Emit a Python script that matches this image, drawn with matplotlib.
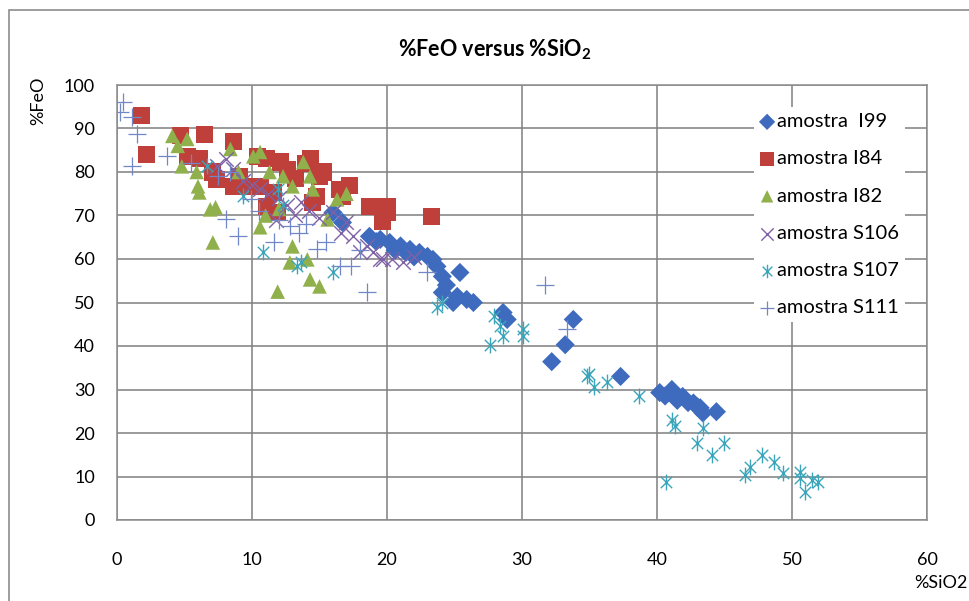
import matplotlib
matplotlib.use("Agg")
import matplotlib.pyplot as plt
from matplotlib.path import Path
from matplotlib.patches import Rectangle

plt.rcParams["font.family"] = ["Lato", "DejaVu Sans"]

# %% data
i99_x = [16.0, 16.7, 18.7, 19.2, 19.5, 20.2, 20.6, 21.0, 21.4, 21.7, 22.0, 22.4, 23.0, 23.4,
         23.7, 24.1, 24.1, 24.4, 25.4, 24.9, 25.2, 25.9, 26.4, 28.6, 28.9, 32.2, 33.2, 33.8,
         37.3, 40.2, 40.6, 41.1, 41.5, 41.9, 42.3, 42.7, 43.0, 43.2, 43.4, 44.4]
i99_y = [70.7, 68.4, 65.2, 64.0, 64.5, 63.8, 62.0, 63.0, 61.5, 62.2, 60.5, 61.5, 60.6, 59.9,
         58.3, 56.0, 52.3, 54.0, 56.9, 50.0, 51.4, 50.7, 50.0, 47.7, 46.1, 36.4, 40.3, 46.1,
         33.0, 29.3, 28.5, 30.0, 27.5, 28.4, 27.0, 26.9, 26.0, 25.8, 24.6, 24.9]

i84_x = [1.85, 2.2, 4.7, 5.2, 6.1, 6.5, 7.1, 7.4, 8.6, 8.6, 9.1, 9.6, 10.4, 10.6, 11.1, 11.1,
         11.6, 11.9, 12.1, 12.6, 13.2, 14.0, 14.3, 14.5, 14.8, 15.0, 15.3, 16.5, 16.7, 17.2,
         18.7, 19.7, 20.0, 20.0, 23.3]
i84_y = [92.9, 84.1, 88.3, 83.6, 83.0, 88.7, 80.0, 78.3, 86.9, 76.7, 79.0, 76.7, 83.6, 76.7,
         83.0, 72.1, 75.3, 70.7, 82.3, 80.6, 78.5, 82.0, 83.0, 73.0, 74.4, 79.0, 80.0, 76.0,
         74.4, 77.0, 72.1, 68.7, 72.1, 70.7, 69.8]

i82_x = [4.1, 4.5, 5.2, 4.8, 5.9, 6.0, 6.1, 6.9, 7.3, 7.1, 8.4, 9.0, 10.1, 10.6, 11.3, 10.6,
         12.3, 13.0, 13.8, 14.3, 14.5, 15.6, 16.3, 17.0, 13.0, 14.1, 12.8, 11.9, 14.3, 15.0,
         12.0, 11.0]
i82_y = [88.3, 86.0, 87.6, 81.3, 80.0, 76.7, 75.3, 71.4, 71.9, 63.8, 85.3, 80.0, 83.6, 84.6,
         80.0, 67.3, 79.0, 76.7, 82.3, 79.0, 76.0, 69.1, 73.7, 75.0, 62.9, 59.9, 59.2, 52.5,
         55.3, 53.7, 71.5, 70.0]

s106_x = [7.4, 8.1, 8.6, 9.3, 10.0, 10.6, 11.2, 12.0, 12.6, 13.6, 14.2, 15.0, 16.0, 16.6,
          17.0, 17.5, 18.0, 18.5, 19.0, 19.5, 19.7, 20.4, 21.2, 22.0, 11.8, 13.2]
s106_y = [81.3, 83.0, 80.6, 78.0, 77.0, 76.0, 75.0, 74.0, 72.5, 73.0, 71.0, 69.5, 70.7, 66.0,
          68.4, 65.2, 61.5, 63.0, 61.5, 59.9, 59.9, 59.9, 59.2, 60.5, 69.0, 70.0]

s107_x = [6.7, 9.3, 11.9, 12.3, 10.8, 13.3, 13.6, 16.0, 24.1, 23.7, 27.9, 28.4, 27.6, 28.6,
          30.1, 30.1, 34.8, 35.3, 36.3, 35.0, 38.7, 40.7, 41.1, 41.3, 43.0, 43.4, 44.1, 45.0,
          46.5, 46.9, 47.8, 48.7, 49.3, 50.6, 50.6, 51.0, 51.5, 51.9]
s107_y = [81.3, 74.4, 76.0, 72.5, 61.5, 58.3, 59.2, 56.9, 50.0, 49.0, 46.8, 44.5, 40.3, 42.2,
          43.8, 42.2, 33.0, 30.6, 31.8, 33.5, 28.4, 8.8, 23.0, 21.5, 17.7, 21.2, 15.0, 17.7,
          10.4, 12.2, 15.0, 13.4, 10.8, 11.1, 9.7, 6.5, 9.2, 8.8]

s111_x = [0.45, 0.2, 1.1, 1.5, 1.1, 3.7, 5.5, 7.5, 8.1, 8.4, 9.0, 9.9, 10.5, 11.6, 12.0, 12.8,
          13.5, 14.0, 14.8, 15.5, 16.5, 17.3, 18.0, 18.5, 23.0, 31.7, 33.3]
s111_y = [96.0, 93.7, 92.6, 88.7, 81.3, 83.6, 82.0, 79.0, 69.1, 80.0, 65.2, 73.7, 71.0, 63.8,
          69.0, 67.5, 66.0, 68.0, 62.2, 64.0, 58.3, 58.3, 62.0, 52.3, 56.9, 54.1, 43.8]

labels = ["amostra  I99", "amostra I84", "amostra I82", "amostra S106", "amostra S107", "amostra S111"]

# %% excel-like star marker (vertical bar + x)
star = Path(
    [(0, -1), (0, 1), (-0.72, -0.72), (0.72, 0.72), (-0.72, 0.72), (0.72, -0.72)],
    [Path.MOVETO, Path.LINETO] * 3,
)

fig = plt.figure(figsize=(9.7, 6.01), dpi=100)
ax = fig.add_axes([117 / 970, 1 - 520 / 601, 810 / 970, 435 / 601])

# outer chart-area border
fig.patches.append(Rectangle((9 / 970, -0.1), 1.2, 1 - 10 / 601 + 0.1, transform=fig.transFigure,
                             fill=False, edgecolor="#8c8c8c", lw=1.2))

ax.scatter(i99_x, i99_y, marker="D", s=95, color="#3f6bbf", edgecolors="none", label=labels[0], zorder=3)
ax.scatter(i84_x, i84_y, marker="s", s=150, color="#bf3f3b", edgecolors="none", label=labels[1], zorder=3)
ax.scatter(i82_x, i82_y, marker="^", s=110, color="#8fb04b", edgecolors="none", label=labels[2], zorder=3)
ax.scatter(s106_x, s106_y, marker="x", s=110, color="#7f62a6", linewidths=1.0, label=labels[3], zorder=3)
ax.scatter(s107_x, s107_y, marker=star, s=130, color="#3aa5ba", linewidths=1.0, label=labels[4], zorder=3)
ax.scatter(s111_x, s111_y, marker="+", s=160, color="#7187c7", linewidths=0.9, label=labels[5], zorder=3)

ax.set_xlim(0, 60)
ax.set_ylim(0, 100)
ax.set_xticks(range(0, 61, 10))
ax.set_yticks(range(0, 101, 10))
ax.grid(True, color="#7f7f7f", lw=1.1)
ax.set_axisbelow(True)
for s in ax.spines.values():
    s.set_color("#8c8c8c")
    s.set_linewidth(1.1)
ax.tick_params(axis="both", length=0, labelsize=13, colors="#000000")
ax.tick_params(axis="x", pad=23)
ax.tick_params(axis="y", pad=16)

fig.text(495 / 970, 1 - 50 / 601, r"%FeO versus %SiO$_\mathregular{2}$", ha="center", va="center",
         fontsize=15.5, fontweight="bold")
fig.text(38 / 970, 1 - 101 / 601, "%FeO", rotation=90, ha="center", va="center", fontsize=13)
fig.text(914 / 970, 1 - 583 / 601, "%SiO2", ha="left", va="center", fontsize=13)

leg = ax.legend(loc="upper left", bbox_to_anchor=((754 - 117) / 810, (520 - 107) / 435), fontsize=14.5,
                frameon=True, framealpha=1, facecolor="white", edgecolor="none", fancybox=False,
                handlelength=0.7, handletextpad=0.15, labelspacing=1.0, borderpad=0.3,
                borderaxespad=0, scatterpoints=1, markerscale=0.85)
leg.set_zorder(5)

fig.savefig("out.png", dpi=100)
